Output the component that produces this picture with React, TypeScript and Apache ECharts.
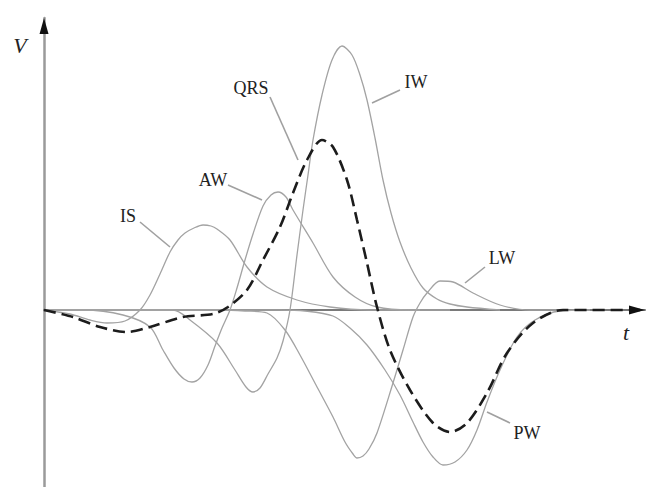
import React, { useEffect, useRef } from "react";
import * as echarts from "echarts";

// Data: t (time) and V (potential) pairs
const isT = [0, 26, 46, 63, 81, 96, 106, 116, 126, 134, 141, 150, 159, 167, 173, 186, 203, 223, 253, 286, 326, 376];
const isV = [0, -4, -10, -13, -11, 0, 15, 36, 58, 70, 77, 82, 85, 84, 81, 70, 43, 23, 10, 3, 0, 0];

const awT = [0, 39, 79, 106, 119, 130, 140, 148, 156, 164, 171, 178, 186, 193, 201, 209, 219, 227, 234, 242, 249, 269, 289, 311, 333, 366, 406];
const awV = [0, 0, -5, -17, -40, -58, -69, -72, -68, -55, -36, -18, 0, 22, 50, 76, 104, 115, 118, 113, 100, 67, 33, 13, 3, 0, 0];

const iwT = [0, 129, 146, 173, 191, 202, 209, 216, 224, 233, 239, 246, 253, 259, 264, 269, 278, 288, 298, 308, 316, 323, 331, 339, 347, 356, 367, 379, 393, 406, 423, 456];
const iwV = [0, 0, -10, -33, -60, -77, -82, -78, -64, -48, -31, 0, 55, 100, 135, 170, 215, 250, 264, 255, 235, 210, 172, 130, 97, 68, 42, 22, 11, 6, 3, 0];

const lwT = [0, 176, 201, 223, 241, 256, 272, 289, 301, 309, 313, 319, 325, 333, 349, 359, 369, 376, 383, 396, 409, 429, 456, 486, 516];
const lwV = [0, 0, -1, -3, -20, -45, -75, -107, -132, -144, -148, -146, -139, -123, -73, -40, -7, 7, 17, 29, 28, 17, 5, 0, 0];

const pwT = [0, 236, 261, 289, 306, 323, 341, 356, 369, 379, 389, 399, 411, 423, 433, 443, 456, 473, 491, 516, 546];
const pwV = [0, 0, -1, -6, -18, -35, -60, -85, -112, -132, -147, -155, -152, -140, -120, -92, -60, -27, -10, -1, 0];

const qrsT = [0, 29, 56, 83, 106, 139, 169, 184, 203, 219, 236, 249, 263, 278, 289, 303, 313, 323, 333, 346, 366, 389, 406, 423, 443, 463, 489, 519, 596];
const qrsV = [0, -7, -17, -22, -17, -7, -4, 3, 20, 50, 83, 117, 150, 170, 163, 130, 90, 47, 3, -40, -80, -113, -122, -113, -83, -43, -13, 0, 0];

// Curve labels and their leader lines (data coordinates)
const labelNames = ["IS", "AW", "QRS", "IW", "LW", "PW"];
const labelPos = [[84, 94], [169, 130], [207, 222], [372, 228], [458, 52], [483, -123]];
const leaderFrom = [[96, 88], [184, 125], [226, 213], [356, 220], [441, 43], [466, -113]];
const leaderTo = [[126, 63], [218, 110], [254, 150], [328, 207], [421, 27], [443, -102]];

const X_MAX = 601;
const Y_MIN = -177;
const Y_MAX = 292;

const zip = (t: number[], v: number[]) => t.map((x, i) => [x, v[i]]);

export default function App() {
  const ref = useRef<HTMLDivElement>(null);
  useEffect(() => {
    if (!ref.current) return;
    const chart = echarts.init(ref.current, undefined, { renderer: "svg" });
    const gray = {
      type: "line" as const,
      showSymbol: false,
      smooth: 0.3,
      lineStyle: { color: "#a3a3a3", width: 1.3 },
      z: 2,
    };
    chart.setOption({
      animation: false,
      backgroundColor: "#ffffff",
      grid: { left: 44, top: 18, width: X_MAX, height: 469, containLabel: false },
      xAxis: {
        type: "value",
        min: 0,
        max: X_MAX,
        axisLine: { show: true, onZero: true, lineStyle: { color: "#7a7a7a", width: 2 } },
        axisTick: { show: false },
        axisLabel: { show: false },
        splitLine: { show: false },
      },
      yAxis: {
        type: "value",
        min: Y_MIN,
        max: Y_MAX,
        axisLine: { show: true, onZero: false, lineStyle: { color: "#9a9a9a", width: 2.5 } },
        axisTick: { show: false },
        axisLabel: { show: false },
        splitLine: { show: false },
      },
      series: [
        { ...gray, name: "IS", data: zip(isT, isV) },
        { ...gray, name: "AW", data: zip(awT, awV) },
        { ...gray, name: "IW", data: zip(iwT, iwV) },
        { ...gray, name: "LW", data: zip(lwT, lwV) },
        { ...gray, name: "PW", data: zip(pwT, pwV) },
        {
          type: "line",
          name: "QRS",
          showSymbol: false,
          smooth: 0.3,
          data: zip(qrsT, qrsV),
          lineStyle: { color: "#1c1c1c", width: 2.6, type: [12, 6] },
          z: 5,
        },
      ],
    });

    const px = (p: number[]) => chart.convertToPixel({ gridIndex: 0 }, p) as number[];
    const origin = px([0, 0]);
    const top = px([0, Y_MAX]);
    const right = px([X_MAX, 0]);
    const graphic: any[] = [];
    // arrowheads
    graphic.push({
      type: "polygon",
      shape: { points: [[top[0], top[1]], [top[0] - 4.5, top[1] + 16], [top[0] + 4.5, top[1] + 16]] },
      style: { fill: "#111" },
      z: 10,
    });
    graphic.push({
      type: "polygon",
      shape: { points: [[right[0], right[1]], [right[0] - 16, right[1] - 4.5], [right[0] - 16, right[1] + 4.5]] },
      style: { fill: "#111" },
      z: 10,
    });
    graphic.push({
      type: "text",
      style: {
        text: "V",
        x: 20,
        y: top[1] + 27,
        align: "center",
        verticalAlign: "middle",
        font: 'italic 22px "Liberation Serif"',
        fill: "#222",
      },
    });
    graphic.push({
      type: "text",
      style: {
        text: "t",
        x: right[0] - 19,
        y: origin[1] + 22,
        align: "center",
        verticalAlign: "middle",
        font: 'italic 22px "Liberation Serif"',
        fill: "#222",
      },
    });
    labelNames.forEach((name, i) => {
      const p = px(labelPos[i]);
      const a = px(leaderFrom[i]);
      const b = px(leaderTo[i]);
      graphic.push({
        type: "line",
        shape: { x1: a[0], y1: a[1], x2: b[0], y2: b[1] },
        style: { stroke: "#a0a0a0", lineWidth: 1.6 },
        z: 3,
      });
      graphic.push({
        type: "text",
        style: {
          text: name,
          x: p[0],
          y: p[1],
          align: "center",
          verticalAlign: "middle",
          font: '18px "Liberation Serif"',
          fill: "#222",
        },
        z: 6,
      });
    });
    chart.setOption({ graphic });
    return () => chart.dispose();
  }, []);
  return (
    <div
      ref={ref}
      style={{ position: "fixed", left: 0, top: 0, width: 646, height: 487, background: "#fff" }}
    />
  );
}
